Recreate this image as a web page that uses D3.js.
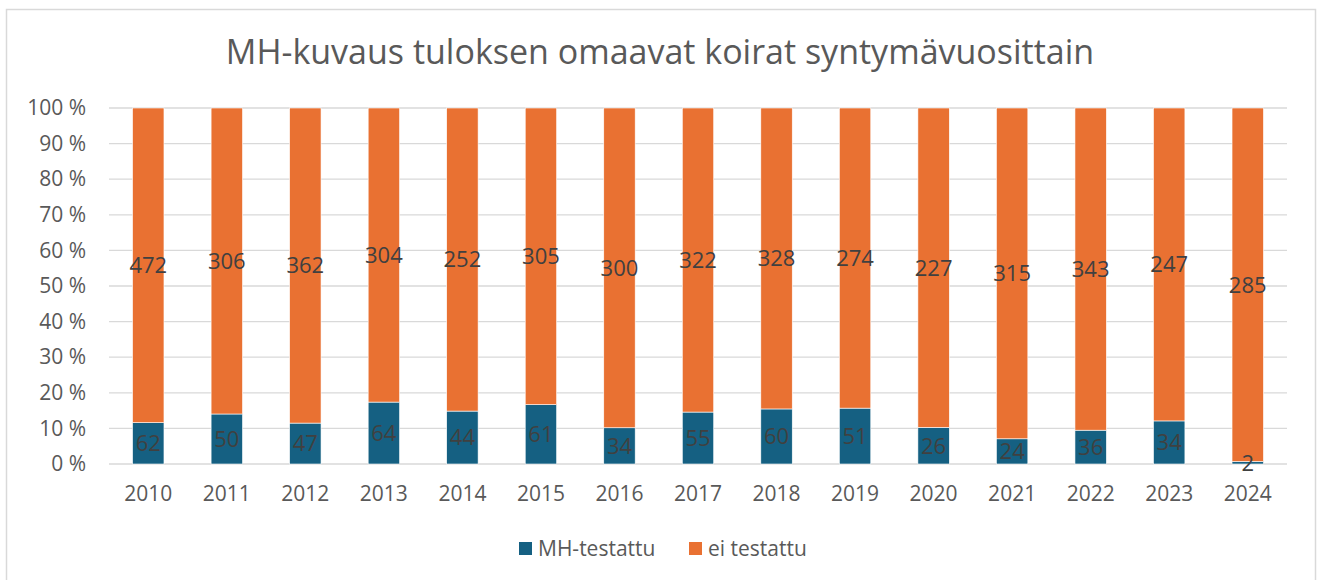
<!DOCTYPE html>
<html>
<head>
<meta charset="utf-8">
<script src="https://cdn.jsdelivr.net/npm/d3@7"></script>
<style>
  body { margin: 0; background: #fff; }
  svg { font-family: 'Open Sans', 'Liberation Sans', sans-serif; }
</style>
</head>
<body>
<div id="chart"></div>
<script>
const years = ['2010', '2011', '2012', '2013', '2014', '2015', '2016', '2017', '2018', '2019', '2020', '2021', '2022', '2023', '2024'];
const tested = [62, 50, 47, 64, 44, 61, 34, 55, 60, 51, 26, 24, 36, 34, 2];
const notTested = [472, 306, 362, 304, 252, 305, 300, 322, 328, 274, 227, 315, 343, 247, 285];
const seriesNames = ['MH-testattu', 'ei testattu'];
const yTicks = [0, 0.1, 0.2, 0.3, 0.4, 0.5, 0.6, 0.7, 0.8, 0.9, 1];

const colors = ['#156082', '#E97132'];

const width = 1320;
const height = 580;

const margin = {
  top: 108,
  left: 109,
  right: 33,
  bottom: 116
};

const plotW = width - margin.left - margin.right;
const plotH = height - margin.top - margin.bottom;

let svg = d3.select('#chart').append('svg')
  .attr('width', width)
  .attr('height', height);

// chart frame
svg.append('rect')
  .attr('x', 6.5)
  .attr('y', 9.5)
  .attr('width', 1309)
  .attr('height', 580)
  .attr('fill', '#fff')
  .attr('stroke', '#d9d9d9')
  .attr('stroke-width', 1.5);

svg.append('text')
  .attr('x', 660)
  .attr('y', 64)
  .attr('text-anchor', 'middle')
  .attr('fill', '#595959')
  .style('font-size', '34px')
  .text('MH-kuvaus tuloksen omaavat koirat syntymävuosittain');

let vis = svg.append('g')
  .attr('transform', 'translate(' + margin.left + ',' + margin.top + ')');

let xScale = d3.scaleBand()
  .domain(years)
  .range([0, plotW])
  .paddingInner(0.6)
  .paddingOuter(0.3);

let yScale = d3.scaleLinear()
  .domain([0, 1])
  .range([plotH, 0]);

// grid
vis.append('g')
  .selectAll('line')
  .data(yTicks).enter()
    .append('line')
      .attr('x1', 0)
      .attr('x2', plotW)
      .attr('y1', d => yScale(d))
      .attr('y2', d => yScale(d))
      .attr('stroke', '#d9d9d9')
      .attr('stroke-width', 1.3);

let yAxis = vis.append('g')
  .call(d3.axisLeft(yScale).tickValues(yTicks).tickSize(0).tickPadding(23)
    .tickFormat(d => Math.round(d * 100) + ' %'));
yAxis.select('.domain').remove();
yAxis.selectAll('text')
  .attr('fill', '#595959')
  .style('font-size', '21px')
  .style('font-family', "'Open Sans', sans-serif");

let xAxis = vis.append('g')
  .attr('transform', 'translate(0,' + plotH + ')')
  .call(d3.axisBottom(xScale).tickSize(0).tickPadding(22));
xAxis.select('.domain').remove();
xAxis.selectAll('text')
  .attr('fill', '#595959')
  .style('font-size', '21px')
  .style('font-family', "'Open Sans', sans-serif");

// stacked data
let rows = years.map((y, i) => {
  let total = tested[i] + notTested[i];
  return { year: y, vals: [tested[i], notTested[i]], total: total };
});

let segs = [];
rows.forEach((r) => {
  let acc = 0;
  r.vals.forEach((v, s) => {
    let y0 = acc / r.total;
    acc += v;
    let y1 = acc / r.total;
    segs.push({ year: r.year, s: s, v: v, y0: y0, y1: y1 });
  });
});

vis.selectAll('.bar')
  .data(segs).enter()
    .append('rect')
      .attr('class', 'bar')
      .attr('x', d => xScale(d.year))
      .attr('width', xScale.bandwidth())
      .attr('y', d => yScale(d.y1))
      .attr('height', d => yScale(d.y0) - yScale(d.y1))
      .attr('fill', d => colors[d.s])
      .attr('stroke', '#fff')
      .attr('stroke-width', 0.6);

vis.selectAll('.lbl')
  .data(segs).enter()
    .append('text')
      .attr('class', 'lbl')
      .attr('x', d => xScale(d.year) + xScale.bandwidth() / 2)
      .attr('y', d => yScale((d.y0 + d.y1) / 2))
      .attr('dy', '0.36em')
      .attr('text-anchor', 'middle')
      .attr('fill', '#404040')
      .style('font-size', '22px')
      .text(d => d.v);

// legend
let legend = svg.append('g')
  .attr('transform', 'translate(519,542)');

let legendX = [0, 170];
seriesNames.forEach((name, i) => {
  legend.append('rect')
    .attr('x', legendX[i])
    .attr('y', 0)
    .attr('width', 13)
    .attr('height', 13)
    .attr('fill', colors[i]);
  legend.append('text')
    .attr('x', legendX[i] + 19)
    .attr('y', 14)
    .attr('fill', '#595959')
    .style('font-size', '21px')
    .text(name);
});
</script>
</body>
</html>
